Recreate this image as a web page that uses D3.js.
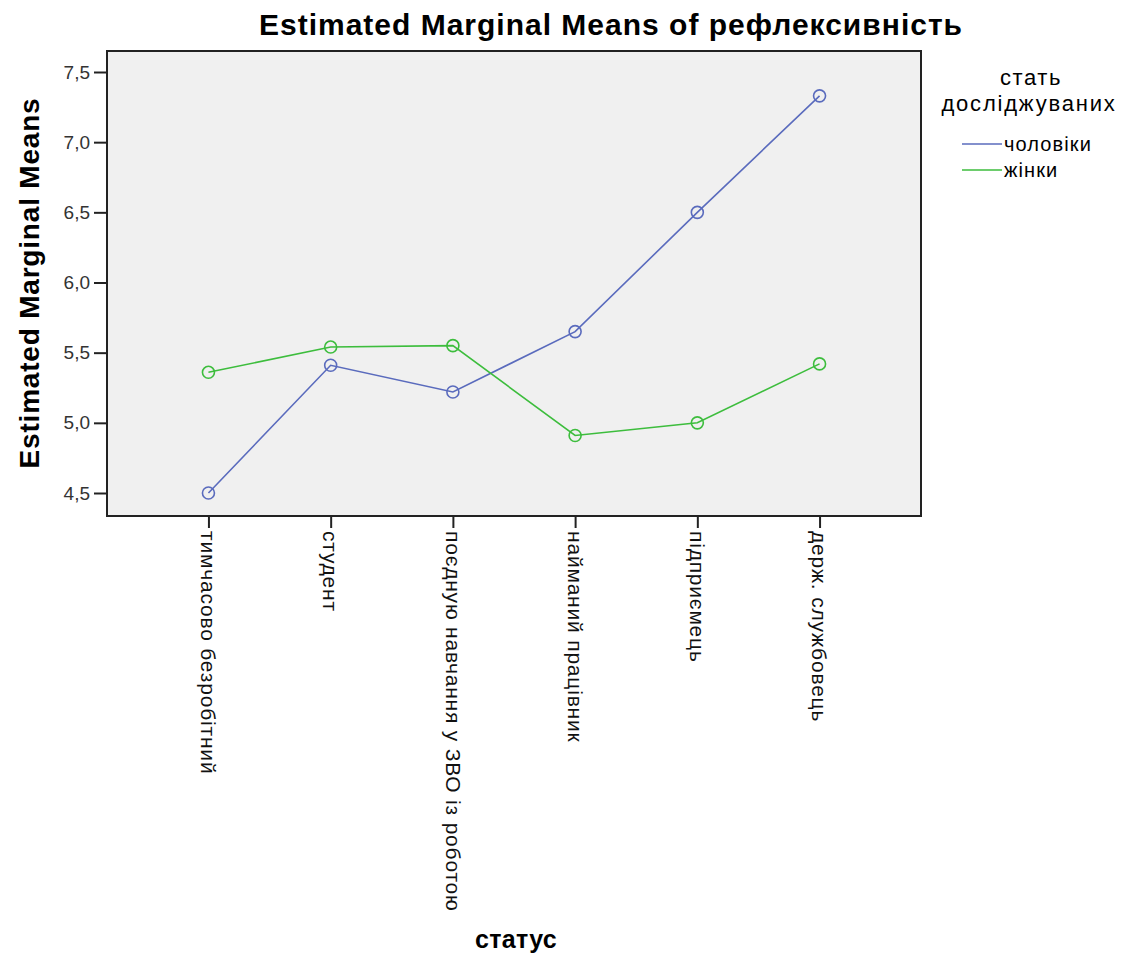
<!DOCTYPE html>
<html>
<head>
<meta charset="utf-8">
<script src="https://cdn.jsdelivr.net/npm/d3@7"></script>
<style>
	body { margin: 0; background: #fff; }
	text { font-family: "Liberation Sans", Arial, sans-serif; }
</style>
</head>
<body>
<div id="graphic-wrapper"></div>
<script>
// status categories (x axis)
const categories = [
	"тимчасово безробітний",
	"студент",
	"поєдную навчання у ЗВО із роботою",
	"найманий працівник",
	"підприємець",
	"держ. службовець"
]
// estimated marginal means, per sex
const menValues = [4.50, 5.41, 5.22, 5.65, 6.50, 7.33]
const womenValues = [5.36, 5.54, 5.55, 4.91, 5.00, 5.42]
const seriesNames = ["чоловіки", "жінки"]
const seriesColors = ["#5a6bbd", "#3dbd3d"]
const yTicks = [4.5, 5.0, 5.5, 6.0, 6.5, 7.0, 7.5]

const DIMENSIONS = {
	width: 1128,
	height: 958,
	margin: { top: 51, right: 207, bottom: 442, left: 107 },
}
DIMENSIONS.boundedWidth = DIMENSIONS.width - DIMENSIONS.margin.left - DIMENSIONS.margin.right
DIMENSIONS.boundedHeight = DIMENSIONS.height - DIMENSIONS.margin.top - DIMENSIONS.margin.bottom

const wrapper = d3.select("#graphic-wrapper")
	.append("svg")
		.attr("width", DIMENSIONS.width)
		.attr("height", DIMENSIONS.height)

const bounds = wrapper.append("g")
	.attr("transform", `translate(${DIMENSIONS.margin.left},${DIMENSIONS.margin.top})`)

const xScale = d3.scalePoint()
	.domain(categories)
	.range([0, DIMENSIONS.boundedWidth])
	.padding(0.83)

// 4.5 sits at y≈493, 7.5 at y≈72
const yScale = d3.scaleLinear()
	.domain([4.5, 7.5])
	.range([493 - DIMENSIONS.margin.top, 72 - DIMENSIONS.margin.top])

// plot background
bounds.append("rect")
	.attr("width", DIMENSIONS.boundedWidth)
	.attr("height", DIMENSIONS.boundedHeight)
	.attr("fill", "#f0f0f0")
	.attr("stroke", "#222")
	.attr("stroke-width", 2)

const fmt = d => d3.format(".1f")(d).replace(".", ",")

// y axis
const yAxis = d3.axisLeft(yScale)
	.tickValues(yTicks)
	.tickFormat(fmt)
	.tickSize(13)
	.tickPadding(4)
const yAxisG = bounds.append("g").call(yAxis)
yAxisG.select(".domain").remove()
yAxisG.selectAll("line").attr("stroke", "#222").attr("stroke-width", 2)
yAxisG.selectAll("text")
	.attr("font-size", 19)
	.attr("font-family", "Liberation Sans, Arial, sans-serif")
	.attr("fill", "#333")

// x axis
const xAxis = d3.axisBottom(xScale).tickSize(12).tickFormat("")
const xAxisG = bounds.append("g")
	.attr("transform", `translate(0,${DIMENSIONS.boundedHeight})`)
	.call(xAxis)
xAxisG.select(".domain").remove()
xAxisG.selectAll("line").attr("stroke", "#222").attr("stroke-width", 2)

bounds.append("g")
	.selectAll("text")
	.data(categories)
	.join("text")
		.attr("transform", d => `translate(${xScale(d)},${DIMENSIONS.boundedHeight + 15}) rotate(90)`)
		.attr("dy", "0.35em")
		.attr("font-size", 21)
		.attr("letter-spacing", 0.8)
		.attr("fill", "#111")
		.text(d => d)

// lines
const series = [menValues, womenValues]
const lineGenerator = d3.line()
	.x((d, i) => xScale(categories[i]))
	.y(d => yScale(d))

series.forEach((values, s) => {
	bounds.append("path")
		.datum(values)
		.attr("d", lineGenerator)
		.attr("fill", "none")
		.attr("stroke", seriesColors[s])
		.attr("stroke-width", 1.6)
	bounds.append("g")
		.selectAll("circle")
		.data(values)
		.join("circle")
			.attr("cx", (d, i) => xScale(categories[i]))
			.attr("cy", d => yScale(d))
			.attr("r", 6)
			.attr("fill", "none")
			.attr("stroke", seriesColors[s])
			.attr("stroke-width", 1.6)
})

// titles
wrapper.append("text")
	.attr("x", 611)
	.attr("y", 35)
	.attr("text-anchor", "middle")
	.attr("font-size", 30)
	.attr("letter-spacing", 1)
	.attr("font-weight", "bold")
	.text("Estimated Marginal Means of рефлексивність")

wrapper.append("text")
	.attr("transform", "translate(39,283) rotate(-90)")
	.attr("text-anchor", "middle")
	.attr("font-size", 28)
	.attr("letter-spacing", 0.8)
	.attr("font-weight", "bold")
	.text("Estimated Marginal Means")

wrapper.append("text")
	.attr("x", 516)
	.attr("y", 948)
	.attr("text-anchor", "middle")
	.attr("font-size", 25)
	.attr("letter-spacing", 0.3)
	.attr("font-weight", "bold")
	.text("статус")

// legend
const legend = wrapper.append("g")
legend.append("text")
	.attr("x", 1031)
	.attr("y", 85)
	.attr("text-anchor", "middle")
	.attr("font-size", 22)
	.attr("letter-spacing", 1.6)
	.text("стать")
legend.append("text")
	.attr("x", 1029)
	.attr("y", 111)
	.attr("text-anchor", "middle")
	.attr("font-size", 22)
	.attr("letter-spacing", 1.8)
	.text("досліджуваних")

seriesNames.forEach((name, i) => {
	const y = 144 + i * 26
	legend.append("line")
		.attr("x1", 962).attr("x2", 1002)
		.attr("y1", y).attr("y2", y)
		.attr("stroke", seriesColors[i])
		.attr("stroke-width", 1.6)
	legend.append("text")
		.attr("x", 1004)
		.attr("y", y)
		.attr("dy", "0.35em")
		.attr("font-size", 20)
		.attr("letter-spacing", 1.1)
		.text(name)
})
</script>
</body>
</html>
